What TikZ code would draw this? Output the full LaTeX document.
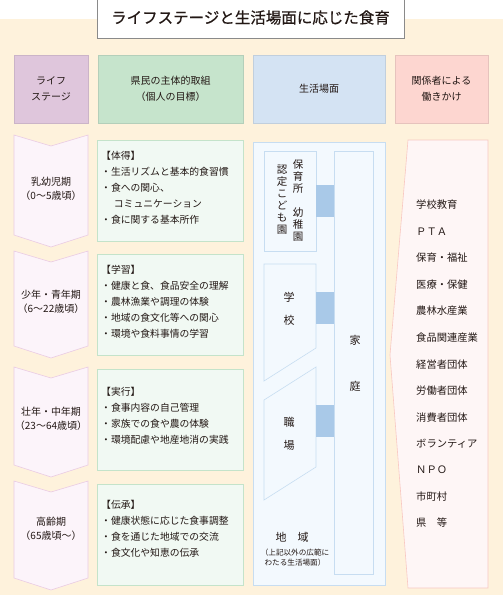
\documentclass[tikz,border=0pt]{standalone}
\usepackage{fontspec}
\setmainfont{Noto Sans CJK JP}
\newfontfamily\titlefont[FakeBold=0.6]{Noto Sans CJK JP}
\definecolor{cream}{HTML}{FEF2DC}
\definecolor{tborder}{HTML}{8A8A8A}
\definecolor{hpurple}{HTML}{DFC6DC}
\definecolor{hgreen}{HTML}{C6E4CC}
\definecolor{hblue}{HTML}{D4E3F3}
\definecolor{hpink}{HTML}{FDD6D0}
\definecolor{stagefill}{HTML}{FCF4FA}
\definecolor{stageline}{HTML}{EACBE3}
\definecolor{gfill}{HTML}{F1F9F3}
\definecolor{gline}{HTML}{C4E3CA}
\definecolor{bfill}{HTML}{F3F9FE}
\definecolor{bline}{HTML}{C7DDF1}
\definecolor{conn}{HTML}{A9C9E8}
\definecolor{pfill}{HTML}{FEF6F6}
\definecolor{pline}{HTML}{F8C8C2}
\definecolor{txt}{HTML}{231815}
\begin{document}
\begin{tikzpicture}[x=1pt,y=-1pt,
  every node/.style={inner sep=0pt, text=txt},
  titlebox/.style={draw=tborder, fill=white, line width=0.8pt, font=\titlefont\fontsize{15.5}{18}\selectfont},
  hdr/.style={align=center, line width=0.6pt, font=\fontsize{10}{16}\selectfont},
  stagebox/.style={fill=stagefill, draw=stageline, line width=0.6pt},
  stagetxt/.style={align=center, font=\fontsize{10}{14}\selectfont},
  goalbox/.style={fill=gfill, draw=gline, line width=0.6pt},
  goaltxt/.style={align=left, anchor=west, font=\fontsize{9.8}{16}\selectfont},
  lifebox/.style={fill=bfill, draw=bline, line width=0.6pt},
  conbar/.style={fill=conn},
  vtxt/.style={align=center, font=\fontsize{10.5}{12}\selectfont},
  bigtxt/.style={align=center, font=\fontsize{11}{23}\selectfont},
  actorbox/.style={fill=pfill, draw=pline, line width=0.6pt},
  actortxt/.style={anchor=west, font=\fontsize{10.3}{12}\selectfont}
]
\useasboundingbox (0,0) rectangle (503,595);
\fill[cream] (0,19) rectangle (503,595);
\node[titlebox, minimum width=307pt, minimum height=41pt] (title) at (250.5,17.5) {ライフステージと生活場面に応じた食育};

% headers
\node[hdr, fill=hpurple, draw=hpurple!85!black!60!hpurple, minimum width=74pt, minimum height=68pt] (h1) at (51,89) {ライフ\\ステージ};
\node[hdr, fill=hgreen, draw=hgreen!85!black!60!hgreen, minimum width=145pt, minimum height=68pt] (h2) at (170.5,89) {県民の主体的取組\\（個人の目標）};
\node[hdr, fill=hblue, draw=hblue!85!black!60!hblue, minimum width=132pt, minimum height=68pt] (h3) at (319,89) {生活場面};
\node[hdr, fill=hpink, draw=hpink!85!black!60!hpink, minimum width=93pt, minimum height=68pt] (h4) at (441.5,89) {関係者による\\働きかけ};

% life stages (chevrons)
\draw[stagebox] (14,135) -- (51,146) -- (88,135) -- (88,235) -- (51,247) -- (14,235) -- cycle;
\draw[stagebox] (14,251) -- (51,262) -- (88,251) -- (88,346) -- (51,358) -- (14,346) -- cycle;
\draw[stagebox] (14,367) -- (51,378) -- (88,367) -- (88,465) -- (51,477) -- (14,465) -- cycle;
\draw[stagebox] (14,481) -- (51,492) -- (88,481) -- (88,578) -- (51,590) -- (14,578) -- cycle;
\node[stagetxt] (s1) at (51,189) {乳幼児期\\（0～5歳頃）};
\node[stagetxt] (s2) at (51,302) {少年・青年期\\（6～22歳頃）};
\node[stagetxt] (s3) at (51,419) {壮年・中年期\\（23～64歳頃）};
\node[stagetxt] (s4) at (51,529) {高齢期\\（65歳頃～）};

% goals
\node[goalbox, minimum width=146pt, minimum height=101pt] (g1) at (170,190.5) {};
\node[goalbox, minimum width=146pt, minimum height=101pt] (g2) at (170,304.5) {};
\node[goalbox, minimum width=146pt, minimum height=101pt] (g3) at (170,419.5) {};
\node[goalbox, minimum width=146pt, minimum height=101pt] (g4) at (170,534.5) {};
\node[goaltxt] (t1) at (101,187.5) {【体得】\\・生活リズムと基本的食習慣\\・食への関心、\\\hspace*{1.3em}コミュニケーション\\・食に関する基本所作};
\node[goaltxt] (t2) at (101,302) {【学習】\\・健康と食、食品安全の理解\\・農林漁業や調理の体験\\・地域の食文化等への関心\\・環境や食料事情の学習};
\node[goaltxt] (t3) at (101,416) {【実行】\\・食事内容の自己管理\\・家族での食や農の体験\\・環境配慮や地産地消の実践};
\node[goaltxt] (t4) at (101,528.5) {【伝承】\\・健康状態に応じた食事調整\\・食を通じた地域での交流\\・食文化や知恵の伝承};

% life scenes
\node[lifebox, minimum width=132pt, minimum height=443pt] (life) at (319,363.5) {};
\node[lifebox, minimum width=39pt, minimum height=423pt] (home) at (353.5,362.5) {};
\node[lifebox, minimum width=52pt, minimum height=100pt] (hoiku) at (290,201) {};
\draw[lifebox] (264,264) -- (316,264) -- (316,348) -- (264,381) -- cycle;
\draw[lifebox] (264,400) -- (316,367) -- (316,467) -- (264,500) -- cycle;
\coordinate (sch) at (316,308);
\coordinate (wrk) at (316,421);
\fill[conbar] (hoiku.east |- 0,185) rectangle (home.west |- 0,217);
\fill[conbar] (sch |- 0,292) rectangle (home.west |- 0,324);
\fill[conbar] (wrk |- 0,405) rectangle (home.west |- 0,437);

\node[vtxt] (v1) at (298,201) {保\\育\\所\\　\\幼\\稚\\園};
\node[vtxt] (v2) at (282,200) {認\\定\\こ\\ど\\も\\園};
\node[bigtxt] (school) at (289,308.5) {学\\校};
\node[bigtxt] (work) at (289,433.5) {職\\場};
\node[align=center, font=\fontsize{11}{46}\selectfont] (kate) at (355,363) {家\\庭};
\node[font=\fontsize{11}{13}\selectfont] (area) at (292,537) {地　域};
\node[align=center, font=\fontsize{7.6}{10.5}\selectfont] (areanote) at (295,557.5) {（上記以外の広範に\\わたる生活場面）};

% actors
\draw[actorbox] (408,140) -- (488,140) -- (488,588) -- (408,588) -- (390,355) -- cycle;
\node[actortxt] (a1) at (416,205) {学校教育};
\node[actortxt] (a2) at (416,231.5) {ＰＴＡ};
\node[actortxt] (a3) at (416,258) {保育・福祉};
\node[actortxt] (a4) at (416,284.5) {医療・保健};
\node[actortxt] (a5) at (416,311) {農林水産業};
\node[actortxt] (a6) at (416,337.5) {食品関連産業};
\node[actortxt] (a7) at (416,364.5) {経営者団体};
\node[actortxt] (a8) at (416,391) {労働者団体};
\node[actortxt] (a9) at (416,417.5) {消費者団体};
\node[actortxt] (a10) at (416,444) {ボランティア};
\node[actortxt] (a11) at (416,470) {ＮＰＯ};
\node[actortxt] (a12) at (416,496.5) {市町村};
\node[actortxt] (a13) at (416,523) {県　等};
\end{tikzpicture}
\end{document}
